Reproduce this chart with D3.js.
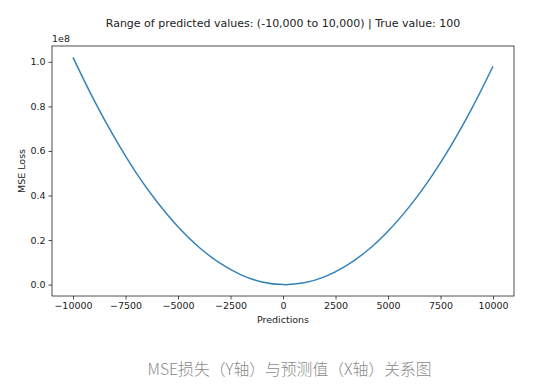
<!DOCTYPE html>
<html lang="zh">
<head>
  <meta charset="UTF-8">
  <title>MSE Loss</title>
  <script src="https://d3js.org/d3.v7.min.js"></script>
  <style>
    body { margin: 0; background: #fff; }
    text { font-family: "DejaVu Sans", sans-serif; fill: #222; }
    .tick text { font-size: 9.5px; }
    .caption { font-family: "Noto Sans CJK SC", sans-serif; font-weight: 300; fill: #8a8a8a; font-size: 15.8px; }
  </style>
</head>
<body>
  <svg id="chart" width="554" height="390"></svg>
  <script>
    // predictions (x) and MSE loss (in units of 1e8)
    const predictions = [-10000, -9000, -8000, -7000, -6000, -5000, -4000, -3000, -2000, -1000, 0,
                         1000, 2000, 3000, 4000, 5000, 6000, 7000, 8000, 9000, 10000];
    const lossE8 = [1.020, 0.828, 0.656, 0.503, 0.372, 0.260, 0.168, 0.096, 0.044, 0.012, 0.0001,
                    0.008, 0.036, 0.084, 0.152, 0.240, 0.348, 0.476, 0.624, 0.792, 0.980];
    const xTicks = [-10000, -7500, -5000, -2500, 0, 2500, 5000, 7500, 10000];
    const yTicks = [0, 0.2, 0.4, 0.6, 0.8, 1.0];

    const svg = d3.select("#chart");
    const plotL = 52, plotR = 514, plotT = 46, plotB = 296;

    const x = d3.scaleLinear().domain([-11000, 11000]).range([plotL, plotR]);
    const y = d3.scaleLinear().domain([-0.051, 1.071]).range([plotB, plotT]);

    const points = predictions.map((p, i) => ({ x: p, y: lossE8[i] }));

    svg.append("path")
      .datum(points)
      .attr("fill", "none")
      .attr("stroke", "#3483b8")
      .attr("stroke-width", 1.5)
      .attr("d", d3.line().x(d => x(d.x)).y(d => y(d.y)).curve(d3.curveCatmullRom));

    // axes
    const xAxis = svg.append("g")
      .attr("transform", `translate(0,${plotB})`)
      .call(d3.axisBottom(x).tickValues(xTicks).tickSize(3.5).tickPadding(3)
        .tickFormat(d => d < 0 ? "\u2212" + Math.abs(d) : d));
    const yAxis = svg.append("g")
      .attr("transform", `translate(${plotL},0)`)
      .call(d3.axisLeft(y).tickValues(yTicks).tickSize(3.5).tickPadding(3)
        .tickFormat(d3.format(".1f")));
    [xAxis, yAxis].forEach(g => {
      g.select(".domain").remove();
      g.selectAll(".tick line").attr("stroke", "#222").attr("stroke-width", 0.8);
    });

    svg.append("rect")
      .attr("x", plotL).attr("y", plotT)
      .attr("width", plotR - plotL).attr("height", plotB - plotT)
      .attr("fill", "none").attr("stroke", "#222").attr("stroke-width", 0.8);

    svg.append("text")
      .attr("x", plotL).attr("y", plotT - 4)
      .attr("font-size", 9.5)
      .text("1e8");

    svg.append("text")
      .attr("x", (plotL + plotR) / 2).attr("y", 27)
      .attr("text-anchor", "middle")
      .attr("font-size", 11)
      .text("Range of predicted values: (-10,000 to 10,000) | True value: 100");

    svg.append("text")
      .attr("x", (plotL + plotR) / 2).attr("y", 323)
      .attr("text-anchor", "middle")
      .attr("font-size", 9.5)
      .text("Predictions");

    svg.append("text")
      .attr("transform", `translate(25,${(plotT + plotB) / 2}) rotate(-90)`)
      .attr("text-anchor", "middle")
      .attr("font-size", 9.5)
      .text("MSE Loss");

    svg.append("text")
      .attr("class", "caption")
      .attr("x", 289.5).attr("y", 375)
      .attr("text-anchor", "middle")
      .text("MSE损失（Y轴）与预测值（X轴）关系图");
  </script>
</body>
</html>
